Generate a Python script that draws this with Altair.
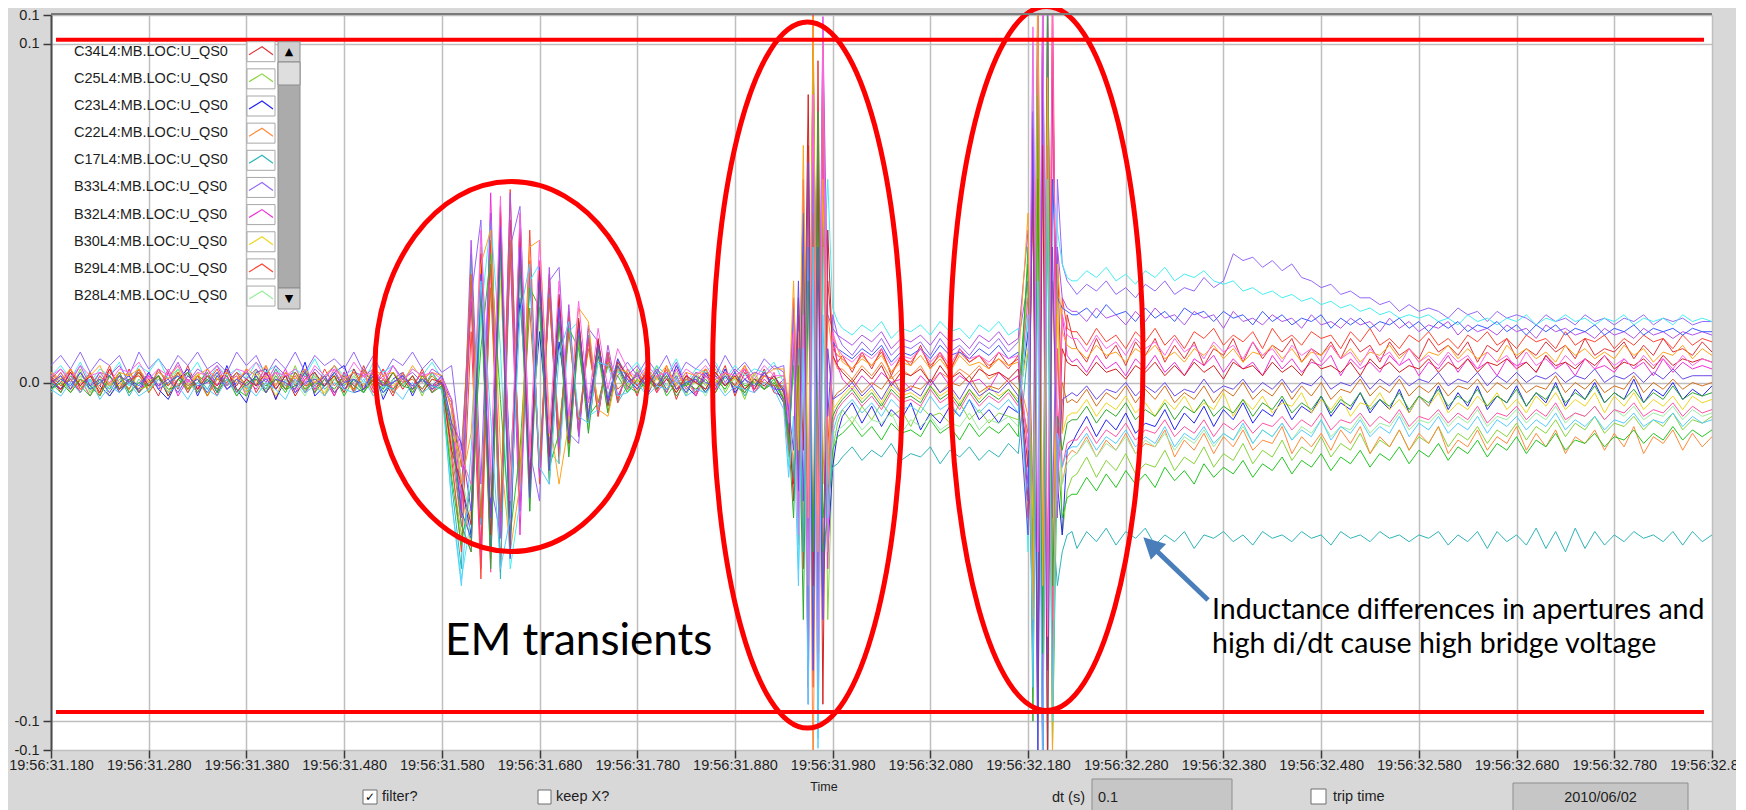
import altair as alt
import pandas as pd

# ---------------- data (mV) ----------------
# segment start times (s after 19:56:00) and sample steps
SEG_START = [31.18, 31.59, 31.77, 31.93, 31.99, 32.18, 32.23]
SEG_STEP = [0.010, 0.010, 0.010, 0.005, 0.010, 0.005, 0.010]

NAMES = ["C34L4:MB.LOC:U_QS0", "C25L4:MB.LOC:U_QS0", "C23L4:MB.LOC:U_QS0",
         "C22L4:MB.LOC:U_QS0", "C17L4:MB.LOC:U_QS0", "B33L4:MB.LOC:U_QS0",
         "B32L4:MB.LOC:U_QS0", "B30L4:MB.LOC:U_QS0", "B29L4:MB.LOC:U_QS0",
         "B28L4:MB.LOC:U_QS0", "B27L4:MB.LOC:U_QS0", "B26L4:MB.LOC:U_QS0",
         "B25L4:MB.LOC:U_QS0", "B24L4:MB.LOC:U_QS0", "B23L4:MB.LOC:U_QS0",
         "B22L4:MB.LOC:U_QS0", "B21L4:MB.LOC:U_QS0", "B20L4:MB.LOC:U_QS0",
         "B19L4:MB.LOC:U_QS0", "B18L4:MB.LOC:U_QS0", "B17L4:MB.LOC:U_QS0",
         "B16L4:MB.LOC:U_QS0"]
COLORS = ["#e2343a", "#86d43a", "#2424f4", "#ff8a3c", "#2fb4b8", "#9468f8",
          "#f22ed6", "#eed620", "#ff4432", "#98ee9e", "#46eef2", "#ff52a4",
          "#b052ea", "#22c622", "#d2701e", "#3c5cff", "#d42020", "#2fa82f",
          "#ffa31a", "#6a4ae6", "#ff66e6", "#55ccff"]

C34 = [[2,-3,4,-1,3,-4,2,-2,4,-3,1,-4,3,-2,5,-2,1,-4,3,-1,4,-3,2,-5,3,-1,4,-2,2,-4,3,-3,5,-2,1,-4,3,-2,4,-3,1],
       [-12,-38,24,-50,42,-56,48,-32,36,-27,28,-21,20,-15,14,-10,8,-5],
       [3,-4,5,-2,4,-5,2,-3,4,-1,5,-4,3,-2,4,-3],
       [-4,-15,-30,20,-55,70,-90,95,-60,30,12,6],
       [8,3,9,4,10,2,8,5,11,4,9,3,10,6,8,4,9,5,7],
       [-20,-70,105,-120,115,-80,40,-15,20,14],
       [10,6,13,7,11,5,12,8,13,6,11,7,12,5,10,8,13,6,12,7,11,9,13,6,10,8,12,7,13,9,11,6,12,8,10,7,13,9,11,8,12,6,11,9,13,7,10,8,12,9,11,7,13,8,10,9,12,7,11,8,13,9,10,8,12,9]]
C25 = [[-1,3,-2,4,-3,2,-4,1,-2,3,-3,2,-1,4,-2,3,-4,2,-1,3,-2,4,-3,1,-2,5,-3,2,-4,3,-1,2,-3,4,-2,3,-1,2,-4,3,-2],
       [-25,-45,-38,40,-52,35,-46,42,-32,30,-24,18,-20,12,-14,8,-9,4],
       [-3,4,-2,5,-3,2,-4,3,-1,4,-3,2,-5,3,-2,1],
       [2,-10,12,-35,40,-60,98,-40,65,-70,-20,-12],
       [-8,-12,-7,-11,-6,-10,-8,-13,-7,-10,-9,-12,-6,-11,-8,-12,-9,-10,-11],
       [30,-50,90,-80,60,-95,30,-45,-32,-28],
       [-27,-22,-28,-23,-26,-21,-27,-24,-25,-20,-26,-22,-24,-19,-25,-21,-23,-18,-24,-20,-22,-17,-23,-19,-21,-16,-22,-18,-20,-15,-21,-17,-19,-14,-20,-16,-18,-13,-19,-15,-17,-13,-18,-14,-16,-12,-17,-13,-15,-11,-16,-12,-14,-10,-15,-12,-13,-10,-14,-11,-13,-9,-14,-11,-12,-10]]
C23 = [[0,-2,1,-3,2,-1,-4,0,2,-3,3,-2,-5,1,4,-4,2,-3,5,-2,-6,3,4,-5,1,-2,6,-4,-1,3,5,-3,-2,4,-5,1,3,-4,2,-1,0],
       [-5,-30,-45,30,-38,40,-25,25,-20,15,-18,12,-10,14,-6,8,-4,5],
       [-2,3,-4,2,-3,5,-1,-4,3,-2,4,-3,1,-2,3,-1],
       [-6,-20,10,-40,30,-75,55,-85,70,-50,-25,-15],
       [-10,-6,-12,-7,-13,-8,-11,-6,-14,-9,-12,-7,-10,-5,-11,-8,-12,-7,-9],
       [15,-40,60,-110,95,-60,-30,-45,-20,-18],
       [-15,-10,-16,-11,-14,-9,-15,-12,-13,-8,-14,-9,-12,-7,-13,-8,-11,-6,-12,-8,-10,-5,-11,-7,-9,-4,-10,-6,-8,-3,-9,-5,-8,-2,-9,-4,-7,-1,-8,-3,-7,-1,-8,-4,-6,-1,-7,-3,-6,0,-7,-2,-5,0,-6,-3,-5,1,-6,-2,-4,0,-5,-2,-4,-1]]
C22 = [[3,-1,4,-2,1,-3,3,0,-2,4,-1,2,-3,3,-1,1,-4,2,0,3,-2,1,-3,4,-1,2,-2,3,-4,1,2,-3,4,-1,0,-2,3,-3,2,-1,1],
       [-18,-32,-48,30,-52,42,-45,50,-34,30,-25,20,-18,16,-11,12,-6,7],
       [2,-3,3,-1,4,-2,1,-4,2,-1,3,-2,4,-3,2,-1],
       [0,-8,-25,15,-45,50,-120,60,-30,20,8,4],
       [4,1,5,2,6,1,4,2,5,0,3,1,4,2,5,1,3,0,2],
       [-10,-45,70,-90,100,-50,10,-30,-22,-20],
       [-21,-16,-22,-17,-20,-15,-21,-18,-19,-14,-22,-17,-20,-15,-21,-16,-19,-14,-20,-17,-18,-13,-21,-16,-19,-15,-20,-14,-18,-13,-21,-16,-19,-14,-20,-15,-18,-13,-21,-17,-19,-14,-20,-16,-18,-13,-20,-15,-19,-14,-21,-16,-18,-14,-20,-15,-19,-13,-21,-16,-18,-14,-20,-15,-19,-16]]
C17 = [[-1,2,-3,1,-2,3,-1,2,-4,1,-2,4,-1,2,-3,2,-2,3,-1,1,-3,2,-2,4,-1,1,-3,3,-2,1,-1,3,-2,2,-3,1,-1,2,-2,3,-1],
       [-30,-55,38,-42,50,-58,40,-35,34,-24,26,-22,18,-13,14,-9,9,-6],
       [-1,3,-2,4,-1,2,-3,1,-2,3,-1,2,-4,1,-2,2],
       [-3,-12,-28,10,-50,40,-80,65,-60,-35,-25,-24],
       [-22,-19,-23,-20,-22,-18,-23,-21,-22,-19,-24,-20,-22,-19,-23,-20,-22,-18,-21],
       [10,-60,80,-100,70,-40,-60,-50,-45,-44],
       [-49,-44,-47,-43,-48,-44,-46,-43,-48,-45,-47,-44,-49,-45,-46,-44,-47,-45,-48,-44,-46,-45,-47,-44,-46,-45,-48,-44,-46,-45,-47,-44,-46,-45,-47,-45,-46,-44,-48,-45,-47,-44,-49,-44,-47,-45,-48,-43,-49,-44,-50,-43,-49,-44,-48,-45,-47,-44,-46,-45,-47,-44,-48,-44,-47,-45]]
B33 = [[5,8,4,9,3,7,5,8,2,9,4,7,3,8,5,9,4,6,3,9,5,8,2,7,4,9,3,8,5,7,4,9,3,8,2,7,5,9,4,7,3],
       [5,-20,25,48,-30,-45,40,52,-20,-35,30,34,-15,-18,16,12,-5,2],
       [6,2,7,3,8,1,6,4,7,2,8,3,6,2,7,4],
       [5,-18,25,-10,48,-65,100,-30,108,-40,20,14],
       [11,8,12,9,13,8,11,10,12,8,13,9,11,8,12,10,13,9,12],
       [30,-35,120,-60,118,-95,60,35,30,28],
       [26,29,27,30,26,28,25,29,27,30,26,28,27,31,28,30,38,36,37,34,36,33,35,31,30,28,29,26,27,25,25,23,24,21,23,21,22,21,19,22,20,21,18,21,19,20,19,17,20,18,19,17,20,18,19,17,19,18,20,17,19,18,19,17,18,18]]
B32 = [[1,-2,3,-3,2,-1,4,-2,1,-3,2,-1,3,-4,1,-2,4,-1,2,-3,1,-2,3,-1,4,-3,2,-2,1,-4,3,-1,2,-3,4,-2,1,-1,3,-2,2],
       [-8,-40,30,-55,56,-42,38,-45,34,-26,25,-20,17,-14,12,-8,7,-4],
       [2,-2,4,-3,1,-1,3,-4,2,-2,3,-1,4,-3,1,-2],
       [1,-6,18,-30,60,-45,85,-100,75,-55,15,5],
       [1,-2,2,-1,3,0,1,-2,2,-1,3,-1,2,0,1,-2,3,0,2],
       [-30,90,-60,112,-108,90,-40,20,8,6],
       [7,3,8,4,6,2,7,4,8,3,6,2,7,5,8,3,7,4,6,2,8,4,7,3,6,5,8,2,7,4,6,3,8,5,7,2,6,4,8,3,7,4,6,2,7,5,6,3,8,4,6,2,7,4,5,3,7,4,6,2,7,3,6,4,5,4]]
B30 = [[-2,1,-3,2,0,-4,2,-1,3,-2,-1,2,-3,1,-2,3,-4,1,-1,2,-3,0,2,-4,1,-2,3,-1,-3,2,0,-2,3,-4,1,-1,2,-3,1,-2,0],
       [-15,-22,-30,22,-34,30,-28,34,-22,24,-16,18,-12,13,-8,9,-4,5],
       [-1,2,-3,1,-2,3,-1,0,-3,2,-1,1,-2,3,-2,0],
       [-2,-10,6,-22,30,-40,55,-50,40,-25,-8,-6],
       [-4,-1,-5,-2,-6,-1,-4,-3,-5,-1,-4,-2,-6,-2,-5,-1,-4,-2,-5],
       [10,-40,55,-70,80,-50,20,-15,-10,-9],
       [-9,-5,-10,-6,-8,-4,-9,-6,-10,-5,-8,-4,-9,-6,-8,-3,-10,-5,-8,-4,-9,-6,-7,-3,-9,-5,-8,-4,-10,-6,-7,-3,-8,-5,-9,-4,-7,-3,-9,-6,-8,-4,-7,-3,-8,-5,-9,-4,-7,-3,-8,-5,-7,-3,-9,-4,-7,-3,-8,-5,-7,-4,-8,-4,-6,-5]]
B29 = [[3,0,4,-2,2,-1,5,-3,1,2,-2,4,-1,3,-3,2,0,4,-2,1,3,-1,5,-2,2,0,3,-3,4,-1,2,-2,3,0,4,-3,2,-1,3,-2,1],
       [-22,-50,15,-58,35,-40,57,-35,45,-30,32,-24,21,-15,13,-10,9,-6],
       [4,-1,3,-3,5,-2,2,0,4,-3,3,-1,5,-2,2,1],
       [-4,-22,15,-48,35,-90,110,-70,50,-20,10,8],
       [7,4,8,5,9,3,7,6,10,5,8,4,9,6,8,5,7,4,8],
       [-40,70,-115,90,-70,120,-30,25,16,15],
       [15,11,16,12,14,10,15,12,16,11,14,10,15,13,16,11,14,12,15,10,16,12,14,11,15,13,14,10,15,12,16,11,13,10,14,12,15,11,13,10,14,12,15,11,13,10,14,12,13,10,15,11,13,12,14,10,13,11,14,12,13,10,14,11,13,12]]
B28 = [[-3,1,-2,2,-4,0,-1,3,-3,1,-2,2,-4,1,0,-3,2,-2,1,-4,2,-1,-3,3,-2,0,-4,2,-1,1,-3,2,-2,0,-4,1,-1,2,-3,1,-2],
       [-10,-28,-40,22,-44,40,-30,32,-38,24,-20,20,-14,15,-9,10,-5,6],
       [-2,1,-3,2,-1,3,-2,0,-4,2,-1,1,-3,2,-2,1],
       [-4,-14,8,-36,52,-30,70,-95,40,-30,-15,-14],
       [-13,-10,-14,-11,-12,-9,-15,-11,-13,-10,-14,-12,-13,-9,-14,-11,-12,-10,-13],
       [20,-80,40,-90,75,-60,-10,-30,-24,-22],
       [-21,-17,-22,-18,-20,-16,-21,-17,-19,-15,-20,-16,-18,-14,-19,-15,-17,-13,-18,-14,-16,-12,-17,-13,-15,-11,-16,-13,-14,-10,-15,-12,-13,-9,-14,-11,-12,-9,-13,-10,-12,-8,-13,-10,-11,-8,-12,-9,-11,-7,-12,-9,-10,-7,-11,-8,-10,-7,-11,-9,-10,-7,-11,-8,-10,-9]]
B27 = [[2,5,1,6,0,4,2,6,-1,5,3,7,1,4,2,6,0,5,2,4,1,6,3,5,0,4,2,7,1,5,2,4,0,6,3,5,1,4,2,6,1],
       [-35,-58,-40,20,48,10,-55,-35,30,35,-20,-24,15,18,-10,-8,6,3],
       [3,6,1,5,2,7,0,4,3,6,1,5,2,4,3,6],
       [0,-25,20,-55,35,-70,90,-105,30,60,22,18],
       [16,14,17,15,18,13,16,15,17,14,18,15,16,13,17,15,18,14,16],
       [-50,100,-70,108,-120,60,45,35,31,30],
       [30,33,31,34,30,32,29,33,31,34,30,32,31,33,30,29,30,27,28,26,27,25,26,24,25,23,24,22,23,21,22,20,21,19,20,19,20,18,19,17,20,18,19,17,19,18,20,17,19,18,20,18,19,17,19,18,20,17,19,18,19,17,20,18,19,18]]
B26 = [[-1,3,-2,1,-4,2,-1,3,-3,0,2,-2,4,-1,1,-3,3,-2,0,2,-4,1,-1,3,-2,2,-3,1,-1,4,-2,0,3,-3,1,-2,2,-1,3,-3,0],
       [-20,-42,-50,38,-56,50,-40,46,-30,36,-26,22,-18,18,-10,12,-6,7],
       [-2,3,-1,2,-3,4,-2,1,-3,2,-1,3,-2,1,-2,3],
       [-6,-20,25,-15,55,-80,95,-60,85,-45,-12,-8],
       [-6,-3,-7,-4,-8,-3,-6,-5,-7,-2,-6,-4,-8,-3,-7,-4,-6,-3,-7],
       [25,-85,118,-100,105,-70,10,-25,-18,-17],
       [-17,-13,-18,-14,-16,-12,-17,-14,-15,-11,-16,-13,-15,-11,-16,-12,-14,-11,-15,-12,-13,-10,-14,-11,-13,-9,-14,-11,-12,-9,-13,-10,-12,-8,-13,-10,-11,-8,-12,-9,-11,-7,-12,-9,-10,-7,-11,-8,-10,-6,-11,-9,-10,-7,-11,-8,-9,-6,-10,-8,-9,-6,-10,-7,-9,-8]]
B25 = [[1,4,0,5,-1,3,2,5,0,4,-1,3,1,6,0,4,2,5,-1,3,1,4,0,5,2,3,-1,4,1,5,0,3,2,4,-1,5,1,3,0,4,2],
       [-5,-35,42,-30,50,-46,56,-38,32,-28,34,-19,23,-16,17,-9,11,-4],
       [2,5,0,4,1,6,-1,3,2,5,0,4,1,3,2,5],
       [3,-8,22,-40,45,-95,80,-60,105,20,16,14],
       [13,11,14,12,15,10,13,12,14,11,15,12,13,10,14,12,15,11,13],
       [45,-90,110,-112,70,-40,40,25,22,21],
       [21,18,22,19,20,17,21,18,22,19,20,17,21,19,20,16,21,18,19,17,20,18,19,16,20,17,18,16,19,17,18,15,19,16,18,15,17,16,18,14,17,15,16,14,17,15,16,13,17,15,16,14,15,13,16,14,15,13,16,14,15,13,15,14,15,14]]
B24 = [[0,-3,2,-1,-4,1,-2,3,-3,0,-1,2,-4,1,-2,0,3,-3,1,-2,-4,2,-1,1,-3,3,-2,0,-1,2,-4,1,-3,2,0,-2,1,-3,2,-1,-2],
       [-28,-48,-30,10,38,-5,-45,-20,28,22,-25,-15,16,10,-10,-6,5,2],
       [-3,1,-2,3,-4,0,-1,2,-3,1,-2,3,-1,0,-2,1],
       [-5,-18,5,-30,20,-55,98,-20,-50,-40,-20,-16],
       [-15,-12,-16,-13,-17,-12,-15,-14,-16,-11,-15,-13,-17,-12,-16,-13,-15,-12,-16],
       [40,-60,85,-70,50,-108,-20,-40,-34,-33],
       [-33,-28,-32,-27,-31,-26,-30,-27,-31,-25,-29,-26,-30,-24,-28,-25,-27,-23,-28,-24,-26,-22,-27,-23,-25,-21,-26,-22,-24,-20,-25,-21,-23,-19,-24,-20,-22,-18,-23,-19,-21,-17,-22,-18,-20,-16,-21,-17,-19,-15,-20,-17,-18,-15,-19,-16,-17,-14,-18,-15,-17,-13,-17,-14,-16,-14]]
B23 = [[2,-1,1,-3,3,-2,0,2,-2,4,-3,1,-1,3,-2,2,-4,1,0,3,-1,2,-3,1,-2,3,-1,0,2,-3,1,-2,4,-1,2,-3,0,1,-2,2,-1],
       [-6,-25,32,-40,28,-38,42,-26,22,-24,25,-14,15,-11,10,-6,6,-2],
       [1,-2,3,-1,2,-3,1,0,-2,3,-1,2,-3,1,0,-1],
       [-1,-12,10,-25,38,-60,50,-80,100,-35,-5,-3],
       [-2,1,-3,0,-2,2,-3,-1,-2,1,-3,0,-1,2,-3,-1,-2,1,-2],
       [-15,55,-100,112,-60,30,-20,0,-6,-5],
       [-6,-2,-7,-3,-5,-1,-6,-2,-5,-1,-6,-3,-5,-1,-6,-2,-4,0,-5,-2,-4,0,-5,-1,-4,0,-5,-2,-3,1,-4,-1,-3,1,-4,-1,-3,0,-4,-1,-2,1,-3,0,-2,1,-3,-1,-2,2,-3,0,-2,1,-3,-1,-2,2,-3,0,-2,1,-2,0,-1,0]]
B22 = [[-2,1,-1,3,-2,0,2,-3,1,-1,3,-2,0,2,-1,1,-3,2,-2,0,3,-1,1,-2,2,-3,0,1,-1,3,-2,1,-1,2,-3,0,2,-1,1,-2,0],
       [-14,-38,-46,30,-50,44,-40,48,-32,34,-22,26,-15,18,-10,12,-5,7],
       [1,-2,2,-1,3,-2,0,1,-3,2,-1,3,-2,1,-1,2],
       [-2,-15,12,-32,50,-50,75,-75,55,-10,12,10],
       [9,7,10,8,11,6,9,8,10,7,11,8,9,7,10,8,11,7,9],
       [-35,80,-112,95,-85,60,25,22,21,20],
       [20,22,19,23,20,21,18,22,19,21,18,22,20,21,18,21,19,20,17,21,18,20,17,19,18,20,16,19,17,19,16,18,17,19,16,18,15,18,16,18,15,17,16,18,15,17,14,17,15,17,14,16,15,17,14,16,15,17,14,16,15,16,14,16,15,15]]
B21 = [[1,-2,3,-1,2,-3,4,-2,0,3,-1,2,-4,1,3,-2,2,-1,4,-3,1,-1,3,-2,2,-4,1,3,-1,2,-3,4,-2,1,-1,3,-2,2,-3,1,0],
       [-20,-30,-42,38,-45,52,-40,45,-30,33,-22,26,-18,19,-12,13,-7,6],
       [2,-1,3,-2,1,-3,2,0,-2,3,-1,2,-2,1,-1,2],
       [-3,-10,-35,25,-20,85,-60,70,-95,45,8,5],
       [3,0,4,1,5,-1,3,2,4,0,5,1,3,0,4,2,3,1,4],
       [-25,60,-90,70,-115,100,-20,10,6,5],
       [5,2,6,3,4,1,5,3,6,2,5,2,6,3,5,1,6,4,5,2,6,3,5,2,7,4,5,3,6,2,7,4,6,3,5,4,7,3,6,4,7,3,6,5,7,4,6,3,8,5,6,4,7,5,8,4,6,5,7,4,8,5,7,6,7,6]]
B20 = [[-2,0,-3,1,-1,-4,2,-2,1,-3,0,2,-2,-1,3,-3,1,-2,2,-4,0,1,-3,2,-2,-1,3,-3,1,-2,2,-1,-3,1,-2,3,-1,-2,1,-3,-1],
       [-15,-42,-50,30,-55,40,-48,35,-38,28,-30,18,-22,14,-15,10,-9,5],
       [-1,-3,1,-2,2,-4,0,-2,1,-3,2,-1,-3,1,-2,0],
       [-5,-16,-40,5,-70,30,-50,80,-40,-25,-10,-7],
       [-5,-2,-6,-3,-7,-2,-5,-4,-6,-1,-5,-3,-7,-2,-6,-3,-5,-2,-6],
       [35,-100,60,-80,108,-60,-10,-20,-12,-11],
       [-11,-7,-12,-8,-10,-6,-11,-8,-10,-6,-11,-7,-9,-5,-10,-7,-9,-5,-10,-6,-8,-4,-9,-6,-8,-4,-9,-5,-7,-3,-8,-5,-7,-3,-8,-4,-6,-2,-7,-4,-6,-2,-7,-4,-6,-2,-7,-3,-5,-1,-6,-3,-5,-1,-6,-3,-5,-2,-6,-3,-5,-1,-5,-3,-4,-3]]
B19 = [[3,1,4,0,2,5,-1,3,2,4,0,3,1,5,-1,2,4,1,3,0,4,2,5,-1,3,1,4,0,2,5,1,3,-1,4,2,3,0,5,1,3,2],
       [-8,-30,-15,35,45,-20,-50,-30,40,42,-10,-30,-12,22,18,-8,-10,4],
       [3,0,4,1,5,-1,3,2,4,0,3,1,5,0,2,4],
       [4,-6,30,-20,70,-40,108,-50,60,-30,14,10],
       [6,4,7,5,8,3,6,5,8,4,7,3,8,5,6,4,7,5,6],
       [50,-70,115,-60,90,-110,35,15,11,10],
       [10,7,11,8,9,6,10,8,11,7,9,6,10,8,11,7,10,6,9,8,11,7,10,6,9,8,11,7,10,6,9,8,11,7,10,6,9,8,11,7,10,7,9,6,11,8,10,7,9,6,11,8,10,7,9,7,11,8,10,6,9,8,11,7,10,8]]
B18 = [[0,2,-2,3,-1,1,-3,2,0,-2,3,-1,1,-3,2,-1,0,3,-2,1,-1,2,-3,1,0,-2,3,-1,2,-3,0,1,-2,3,-1,0,2,-2,1,-1,2],
       [-12,-18,-38,32,-40,46,-52,40,-34,30,-26,22,-17,16,-11,11,-6,5],
       [0,2,-1,3,-2,1,-3,2,0,-1,2,-2,1,-1,3,-2],
       [-2,-8,-20,30,-35,65,-85,40,-70,10,-5,-4],
       [-3,0,-4,-1,-5,0,-3,-2,-4,1,-3,-1,-5,0,-4,-2,-3,0,-4],
       [-45,75,-95,110,-80,40,-30,-5,-4,-3],
       [-4,-1,-5,-2,-3,0,-4,-1,-3,0,-4,-2,-3,1,-3,-1,-2,1,-3,0,-2,1,-3,0,-1,2,-2,0,-1,2,-2,1,-1,2,-1,1,0,3,-1,1,0,3,-1,2,0,3,0,2,1,3,0,2,1,4,0,2,1,3,0,3,1,4,1,2,2,2]]
B17 = [[2,4,1,5,2,3,0,4,3,6,1,4,2,5,0,3,2,5,1,4,3,6,1,3,2,4,0,5,2,4,1,6,2,3,1,5,0,4,2,3,1],
       [-5,-22,-30,45,-26,55,-35,50,-22,42,-15,30,-10,24,-6,16,-2,10],
       [4,1,5,2,3,0,4,2,5,1,3,2,4,1,5,2],
       [2,-12,15,-45,20,-60,85,-90,108,-50,15,10],
       [8,6,9,7,10,5,8,7,10,6,9,5,10,7,8,6,9,7,8],
       [-20,105,-50,118,-75,110,-35,20,14,13],
       [13,9,14,10,12,8,13,10,12,8,13,9,11,7,12,9,11,7,12,8,10,6,11,8,10,6,11,7,9,5,10,7,9,5,10,6,8,5,9,6,8,4,9,6,8,4,9,5,7,4,8,5,7,4,8,5,7,4,8,5,7,4,8,5,7,6]]
B16 = [[-2,-4,0,-3,1,-5,-1,-3,0,-4,-2,1,-3,-1,-5,0,-2,-4,1,-3,-1,-4,0,-2,-5,1,-3,-1,-4,0,-2,-3,1,-4,-1,-2,-5,0,-3,-1,-2],
       [-35,-60,-20,30,-10,-55,-40,20,35,-25,-30,8,18,-10,-12,6,5,-4],
       [-3,0,-4,-1,-2,1,-4,-2,-3,0,-4,-1,-2,-3,0,-2],
       [-8,-28,-10,-60,10,-95,40,-108,20,-40,-15,-10],
       [-8,-5,-9,-6,-10,-5,-8,-7,-9,-4,-8,-6,-10,-5,-9,-6,-8,-5,-9],
       [20,-90,30,-118,60,-100,-15,-25,-20,-19],
       [-19,-15,-20,-16,-18,-14,-19,-16,-18,-13,-19,-15,-17,-13,-18,-15,-17,-12,-18,-14,-16,-12,-17,-14,-16,-11,-17,-13,-15,-11,-16,-13,-15,-10,-16,-12,-14,-10,-15,-12,-14,-10,-15,-11,-13,-10,-14,-11,-13,-9,-14,-11,-13,-10,-14,-11,-12,-9,-13,-11,-12,-9,-13,-10,-12,-11]]

TRACES = [C34, C25, C23, C22, C17, B33, B32, B30, B29, B28, B27, B26, B25, B24,
          B23, B22, B21, B20, B19, B18, B17, B16]

X_TICKS = [31.18, 31.28, 31.38, 31.48, 31.58, 31.68, 31.78, 31.88, 31.98, 32.08,
           32.18, 32.28, 32.38, 32.48, 32.58, 32.68, 32.78, 32.88]
Y_TICKS = [-0.1085, -0.1, 0.0, 0.1, 0.1085]

# annotations (data coordinates)
LIMIT_V = [0.1012, -0.0973]
LIMIT_T = [31.1851, 32.8718]
ELL_T = [31.6513, 31.9543, 32.1989]
ELL_V = [0.0047, 0.0022, 0.0071]
ELL_RX = [136.5, 95, 96.5]
ELL_RY = [185, 353, 352]
ARROW = dict(t=32.3642, v=-0.0642, t2=32.3069, v2=-0.0484, tt=32.2980, tv=-0.0457)
NOTE_LINES = ["Inductance differences in apertures and",
              "high di/dt cause high bridge voltage"]

# ---------------- build table ----------------
rows = []
for name, segs in zip(NAMES, TRACES):
    for k, seg in enumerate(segs):
        for j, mv in enumerate(seg):
            rows.append({"s": name, "t": round(SEG_START[k] + j * SEG_STEP[k], 4), "v": mv / 1000.0})
df = pd.DataFrame(rows)

XS = alt.Scale(domain=[31.18, 32.88], nice=False, zero=False)
YS = alt.Scale(domain=[-0.1085, 0.1085], nice=False, zero=False)
XA = alt.Axis(values=X_TICKS, labelExpr="'19:56:' + format(datum.value, '.3f')",
              grid=True, gridColor="#bfbfbf", gridWidth=1.5, domain=False,
              tickColor="#3a3a3a", tickSize=8, tickWidth=1.5,
              labelFont="Liberation Sans", labelFontSize=14.5, labelColor="#1e1e1e",
              labelPadding=0, labelFlush=False, labelOverlap=False, title="")
YA = alt.Axis(values=Y_TICKS,
              labelExpr="datum.value > 0.05 ? '0.1' : (datum.value < -0.05 ? '-0.1' : '0.0')",
              grid=True, gridColor="#bfbfbf", gridWidth=1.5, domain=True,
              domainColor="#4a4a4a", domainWidth=2, tickColor="#3a3a3a", tickSize=8,
              tickWidth=1.5, labelFont="Liberation Sans", labelFontSize=14.5,
              labelColor="#1e1e1e", labelPadding=4, labelFlush=False,
              labelOverlap=False, title="")


def X(f):
    return alt.X(f + ":Q", scale=XS, axis=XA)


def Y(f):
    return alt.Y(f + ":Q", scale=YS, axis=YA)


lines = alt.Chart(df).mark_line(strokeWidth=1, clip=True).encode(
    x=X("t"), y=Y("v"),
    color=alt.Color("s:N", scale=alt.Scale(domain=NAMES, range=COLORS), legend=None),
)

lim_df = pd.DataFrame({"v": LIMIT_V, "t": [LIMIT_T[0]] * 2, "t2": [LIMIT_T[1]] * 2})
limits = alt.Chart(lim_df).mark_rule(color="#ff0000", strokeWidth=4).encode(
    x=X("t"), x2="t2:Q", y=Y("v"))

layers = [lines, limits]

for t, v, rx, ry in zip(ELL_T, ELL_V, ELL_RX, ELL_RY):
    path = f"M{-rx},0A{rx},{ry},0,1,0,{rx},0A{rx},{ry},0,1,0,{-rx},0Z"
    layers.append(alt.Chart(pd.DataFrame({"t": [t], "v": [v]})).mark_point(
        shape=path, size=4, filled=False, color="#ff0000", strokeWidth=5, opacity=1
    ).encode(x=X("t"), y=Y("v")))

arr_df = pd.DataFrame({"t": [ARROW["t"]], "v": [ARROW["v"]], "t2": [ARROW["t2"]], "v2": [ARROW["v2"]]})
layers.append(alt.Chart(arr_df).mark_rule(color="#4a7ebb", strokeWidth=5).encode(
    x=X("t"), y=Y("v"), x2="t2:Q", y2="v2:Q"))
layers.append(alt.Chart(pd.DataFrame({"t": [ARROW["tt"]], "v": [ARROW["tv"]]})).mark_point(
    shape="M0,0L-11,21L11,21Z", size=4, filled=True, color="#4a7ebb", angle=314, opacity=1
).encode(x=X("t"), y=Y("v")))

ONE = pd.DataFrame({"k": [0]})


def box(x0, x1, y0, y1, fill, stroke, sw=1):
    return alt.Chart(ONE).mark_rect(fill=fill, stroke=stroke, strokeWidth=sw).encode(
        x=alt.value(x0), x2=alt.value(x1), y=alt.value(y0), y2=alt.value(y1))


def label(s, x, y, size=14.5, align="left", font="Liberation Sans", color="#1e1e1e",
          baseline="middle", **kw):
    return alt.Chart(ONE).mark_text(text=s, fontSize=size, align=align, font=font,
                                    color=color, baseline=baseline, **kw).encode(
        x=alt.value(x), y=alt.value(y))


# annotation texts
layers.append(label("EM transients", 394, 640, size=44, font="Lato", color="#000000",
                    baseline="alphabetic"))
layers.append(label(NOTE_LINES, 1161, 603.5, size=28.5, font="Lato", color="#000000",
                    baseline="alphabetic", lineHeight=34.5))

# legend (first ten channels)
ZIG = "M-12,4L1,-4L12,4"
for i in range(10):
    rc = 36.7 + 27.15 * i
    layers.append(label(NAMES[i], 23, rc))
    layers.append(box(196, 224, rc - 10, rc + 10, "#ffffff", "#a8a8a8"))
    layers.append(alt.Chart(ONE).mark_point(shape=ZIG, size=4, filled=False, color=COLORS[i],
                                            strokeWidth=1.2, opacity=1).encode(
        x=alt.value(210), y=alt.value(rc - 1)))
# scrollbar
layers.append(box(227, 249, 47, 273, "#ababab", "#8c8c8c"))
layers.append(box(227, 249, 26.7, 47, "#d0d0d0", "#8c8c8c"))
layers.append(box(227, 249, 47, 70, "#dedede", "#8c8c8c"))
layers.append(box(227, 249, 273, 294, "#d0d0d0", "#8c8c8c"))
layers.append(label("▲", 238, 37, size=11, align="center", font="DejaVu Sans", color="#000000"))
layers.append(label("▼", 238, 284, size=11, align="center", font="DejaVu Sans", color="#000000"))

# top border of plot
layers.append(alt.Chart(ONE).mark_rule(color="#7a7a7a", strokeWidth=2).encode(
    x=alt.value(0), x2=alt.value(1661), y=alt.value(-1)))

# front-panel controls below the graph
layers.append(box(312, 326, 775, 789, "#ffffff", "#6e6e6e"))
layers.append(label("✓", 319, 782, size=12, align="center", font="DejaVu Sans", color="#000000"))
layers.append(label("filter?", 331, 782))
layers.append(box(487, 500, 775, 789, "#ffffff", "#6e6e6e"))
layers.append(label("keep X?", 505, 782))
layers.append(label("Time", 773, 772, size=12.5, align="center"))
layers.append(label("dt (s)", 1001, 783))
layers.append(box(1041, 1181, 764, 800, "#c6c6c6", "#8e8e8e"))
layers.append(label("0.1", 1047, 783))
layers.append(box(1260, 1275, 774, 789, "#ffffff", "#6e6e6e"))
layers.append(label("trip time", 1282, 782))
layers.append(box(1462, 1637, 768, 800, "#c6c6c6", "#8e8e8e"))
layers.append(label("2010/06/02", 1549.5, 783, align="center"))

chart = alt.layer(*layers).properties(
    width=1661, height=735,
    padding={"left": 43, "top": 7, "right": 24, "bottom": 60},
    autosize=alt.AutoSizeParams(type="none"),
    background="#d8d8d8",
).configure_view(fill="#ffffff", stroke="transparent")

chart.save("out.html", embed_options={"renderer": "svg", "actions": False})
